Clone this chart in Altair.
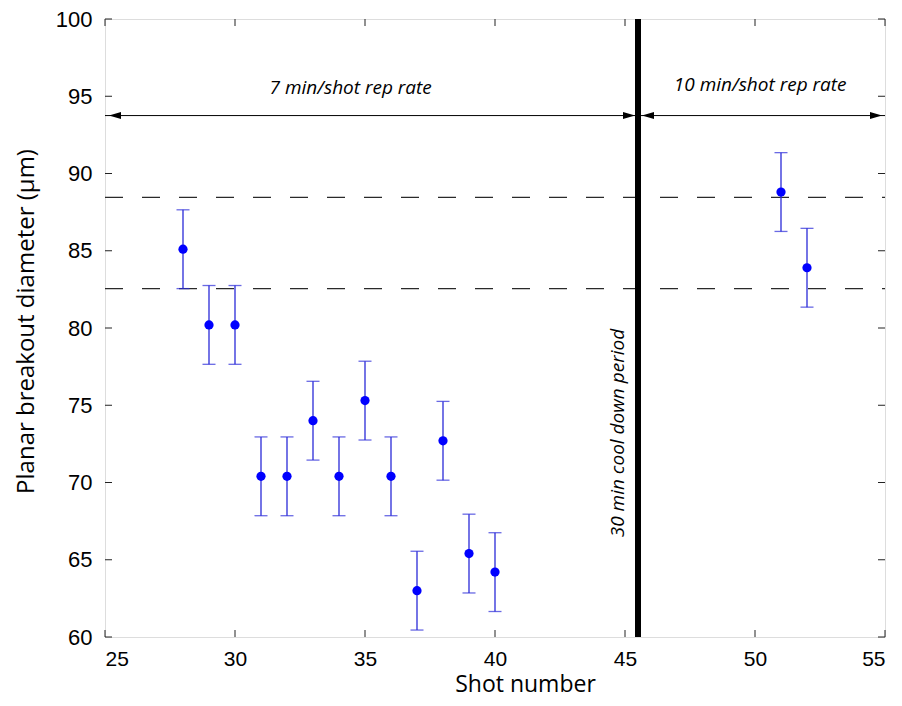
import altair as alt
import pandas as pd

# ---- data ----
shots = [28, 29, 30, 31, 32, 33, 34, 35, 36, 37, 38, 39, 40, 51, 52]
diameter = [85.1, 80.2, 80.2, 70.4, 70.4, 74.0, 70.4, 75.3, 70.4, 63.0, 72.7, 65.4, 64.2, 88.8, 83.9]
err = [2.55, 2.55, 2.55, 2.55, 2.55, 2.55, 2.55, 2.55, 2.55, 2.55, 2.55, 2.55, 2.55, 2.55, 2.55]

ref_levels = [88.45, 82.55]          # dashed horizontal reference lines
cooldown_x = [45.5]                  # thick vertical separator
arrow_y = 93.75                      # level of the rep-rate arrows
arrow_segments_x = [25, 45.5]
arrow_segments_x2 = [45.5, 55]
arrow_heads_x = [25, 45.5, 45.5, 55]
arrow_heads_dir = ["left", "right", "left", "right"]

label_text = ["7 min/shot rep rate", "10 min/shot rep rate"]
label_x = [34.45, 50.2]
label_y = [95.15, 95.35]

vlabel_text = ["30 min cool down period"]
vlabel_x = [44.73]
vlabel_y = [73.2]

x_ticks = [25, 30, 35, 40, 45, 50, 55]
y_ticks = [60, 65, 70, 75, 80, 85, 90, 95, 100]

W, H = 780, 618

df = pd.DataFrame({"shot": shots, "d": diameter, "e": err})
df["lo"] = df["d"] - df["e"]
df["hi"] = df["d"] + df["e"]

xs = alt.Scale(domain=[25, 55], nice=False, zero=False)
ys = alt.Scale(domain=[60, 100], nice=False, zero=False)

LABEL_FONT = "Liberation Sans"
TITLE_FONT = "Open Sans"

x_axis = alt.Axis(values=x_ticks, title="Shot number", ticks=False, tickSize=0, domain=False,
                  grid=False, labelFont=LABEL_FONT, labelFontSize=21, labelColor="black",
                  labelPadding=11, titleFont=TITLE_FONT, titleFontSize=23, titleFontWeight="normal",
                  titleColor="black", titleX=420, titleY=54, titleBaseline="alphabetic",
                  titleAnchor="start", titleAlign="center", format="d")
y_axis = alt.Axis(values=y_ticks, title="Planar breakout diameter (\u03bcm)", ticks=False, tickSize=0,
                  domain=False, grid=False, labelFont=LABEL_FONT, labelFontSize=22, labelColor="black",
                  labelPadding=13, titleFont=TITLE_FONT, titleFontSize=24, titleFontWeight="normal",
                  titleColor="black", titleAngle=270, titleX=-72, titleY=302,
                  titleBaseline="alphabetic", titleAlign="center", format="d")

base = alt.Chart(df)

# invisible layer carrying the axes
axes_layer = base.mark_point(opacity=0).encode(
    x=alt.X("shot:Q", scale=xs, axis=x_axis),
    y=alt.Y("d:Q", scale=ys, axis=y_axis),
)

# dashed reference lines
dash_df = pd.DataFrame({"level": ref_levels})
dashes = alt.Chart(dash_df).mark_rule(color="#2a2a2a", strokeWidth=1.2, strokeDash=[18, 19]).encode(
    y=alt.Y("level:Q", scale=ys),
    x=alt.value(0), x2=alt.value(W),
)

# thick vertical separator
sep_df = pd.DataFrame({"x": cooldown_x})
sep = alt.Chart(sep_df).mark_rule(color="black", strokeWidth=6).encode(
    x=alt.X("x:Q", scale=xs),
    y=alt.value(0), y2=alt.value(H),
)

# arrows
seg_df = pd.DataFrame({"x": arrow_segments_x, "x2": arrow_segments_x2, "y": [arrow_y, arrow_y]})
segs = alt.Chart(seg_df).mark_rule(color="black", strokeWidth=1).encode(
    x=alt.X("x:Q", scale=xs), x2="x2:Q", y=alt.Y("y:Q", scale=ys),
)
head_df = pd.DataFrame({"x": arrow_heads_x, "dir": arrow_heads_dir, "y": [arrow_y] * 4})
LEFT_HEAD = "M0.8,0L3.2,-0.7L3.2,0.7Z"
RIGHT_HEAD = "M-0.6,0L-3,-0.7L-3,0.7Z"
heads = alt.Chart(head_df).mark_point(filled=True, color="black", opacity=1, size=100, strokeWidth=0).encode(
    x=alt.X("x:Q", scale=xs), y=alt.Y("y:Q", scale=ys),
    shape=alt.Shape("dir:N", scale=alt.Scale(domain=["left", "right"], range=[LEFT_HEAD, RIGHT_HEAD]), legend=None),
)

# annotation texts
lab_df = pd.DataFrame({"t": label_text, "x": label_x, "y": label_y})
labels = alt.Chart(lab_df).mark_text(font=TITLE_FONT, fontSize=19, fontStyle="italic", color="black",
                                     baseline="alphabetic", align="center").encode(
    x=alt.X("x:Q", scale=xs), y=alt.Y("y:Q", scale=ys), text="t:N",
)
vlab_df = pd.DataFrame({"t": vlabel_text, "x": vlabel_x, "y": vlabel_y})
vlabels = alt.Chart(vlab_df).mark_text(font=TITLE_FONT, fontSize=19, fontStyle="italic", color="black",
                                       baseline="middle", align="center", angle=270).encode(
    x=alt.X("x:Q", scale=xs), y=alt.Y("y:Q", scale=ys), text="t:N",
)

# inward ticks (Matlab-style box)
xt_df = pd.DataFrame({"v": x_ticks})
yt_df = pd.DataFrame({"v": y_ticks})
TL = 7
xt_bottom = alt.Chart(xt_df).mark_rule(color="#222222", strokeWidth=1).encode(
    x=alt.X("v:Q", scale=xs), y=alt.value(H), y2=alt.value(H - TL))
xt_top = alt.Chart(xt_df).mark_rule(color="#222222", strokeWidth=1).encode(
    x=alt.X("v:Q", scale=xs), y=alt.value(0), y2=alt.value(TL))
yt_left = alt.Chart(yt_df).mark_rule(color="#222222", strokeWidth=1).encode(
    y=alt.Y("v:Q", scale=ys), x=alt.value(0), x2=alt.value(TL))
yt_right = alt.Chart(yt_df).mark_rule(color="#222222", strokeWidth=1).encode(
    y=alt.Y("v:Q", scale=ys), x=alt.value(W), x2=alt.value(W - TL))

# error bars
BLUE = "#0000ff"
EB = "#2a2ad8"
bars = base.mark_rule(color=EB, strokeWidth=1.3).encode(
    x=alt.X("shot:Q", scale=xs), y=alt.Y("lo:Q", scale=ys), y2="hi:Q")
cap_lo = base.mark_tick(color=EB, thickness=1.3, size=13, orient="horizontal").encode(
    x=alt.X("shot:Q", scale=xs), y=alt.Y("lo:Q", scale=ys))
cap_hi = base.mark_tick(color=EB, thickness=1.3, size=13, orient="horizontal").encode(
    x=alt.X("shot:Q", scale=xs), y=alt.Y("hi:Q", scale=ys))
pts = base.mark_circle(color=BLUE, opacity=1, size=85).encode(
    x=alt.X("shot:Q", scale=xs), y=alt.Y("d:Q", scale=ys))

chart = alt.layer(
    axes_layer, dashes, xt_bottom, xt_top, yt_left, yt_right, segs, heads, sep,
    labels, vlabels, bars, cap_lo, cap_hi, pts,
).properties(
    width=W, height=H,
    autosize=alt.AutoSizeParams(type="none"),
    padding={"left": 97, "top": 11, "right": 9, "bottom": 61},
).configure_view(
    stroke="black", strokeWidth=1
).configure(background="white")

chart.save("out.html", embed_options={"renderer": "svg", "actions": False})
